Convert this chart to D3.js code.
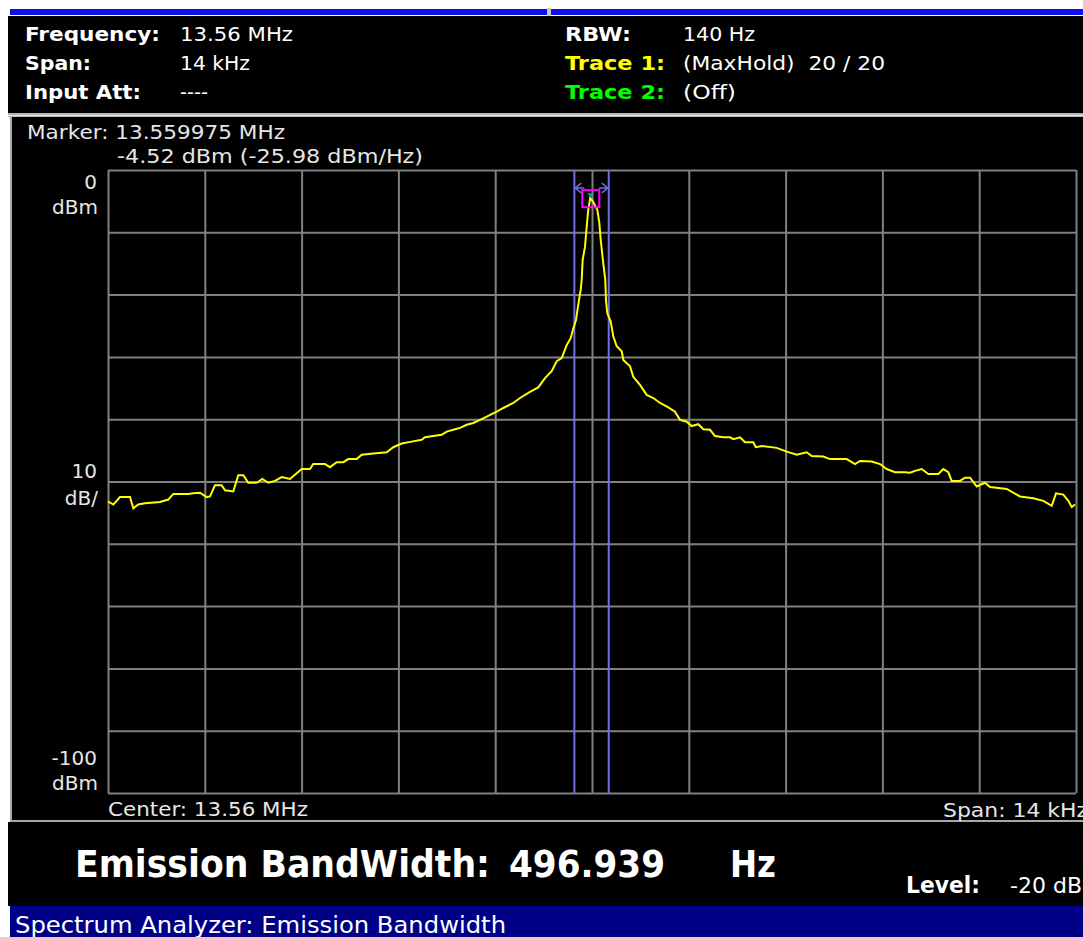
<!DOCTYPE html>
<html>
<head>
<meta charset="utf-8">
<script src="https://cdn.jsdelivr.net/npm/d3@7/dist/d3.min.js"></script>
<style>
  html, body { margin: 0; padding: 0; background: #ffffff; }
  svg { display: block; }
  text { white-space: pre; }
</style>
</head>
<body>
<svg id="chart" width="1083" height="937"></svg>
<script>
// ---------------- DATA ----------------
const centerFreqMHz = 13.56;
const spanHz = 14000;
const refLevel = 0;          // dBm (top)
const bottomLevel = -100;    // dBm (bottom)

// Trace 1 (MaxHold) : offset from centre frequency (Hz) and level (dBm)
const freqOffsetHz = [-7000,-6923,-6827,-6682,-6634,-6562,-6465,-6249,-6128,-6056,-5839,-5766,-5670,-5573,-5525,-5453,-5356,-5308,-5188,-5116,-5043,-4971,-4850,-4768,-4682,-4585,-4488,-4368,-4199,-4079,-4031,-3862,-3789,-3692,-3597,-3525,-3403,-3331,-3163,-2969,-2874,-2752,-2608,-2463,-2415,-2295,-2174,-2101,-2006,-1909,-1812,-1717,-1620,-1523,-1378,-1283,-1138,-1041,-897,-777,-680,-583,-511,-438,-366,-308,-270,-231,-213,-184,-163,-149,-135,-101,-77,-54,-25,5,40,77,106,126,163,192,202,221,270,308,357,430,453,550,597,694,791,887,984,1104,1200,1273,1370,1442,1537,1610,1707,1779,1899,1996,2044,2141,2213,2333,2368,2454,2671,2816,2961,3105,3178,3345,3442,3684,3804,3876,4045,4165,4262,4382,4527,4599,4672,4768,4864,5009,5081,5153,5202,5322,5395,5467,5564,5684,5756,5998,6190,6383,6527,6649,6711,6816,6889,6938,6986];
const levelDbm = [-53.2,-53.7,-52.5,-52.5,-54.3,-53.7,-53.5,-53.3,-52.9,-52.0,-52.0,-51.9,-51.8,-52.5,-52.4,-50.6,-50.6,-51.4,-51.6,-49.0,-49.0,-50.2,-50.2,-49.6,-50.2,-49.9,-49.3,-49.6,-48.0,-48.0,-47.2,-47.2,-47.7,-46.9,-46.9,-46.4,-46.4,-45.7,-45.5,-45.3,-44.5,-43.9,-43.6,-43.3,-42.9,-42.7,-42.5,-42.0,-41.7,-41.4,-40.9,-40.6,-40.1,-39.6,-38.8,-38.2,-37.4,-36.6,-35.6,-34.9,-33.4,-32.3,-30.7,-30.2,-28.1,-27.0,-25.4,-24.1,-22.7,-20.6,-19.2,-17.6,-14.4,-12.3,-9.1,-6.4,-4.5,-4.9,-5.6,-6.4,-8.5,-11.2,-15.0,-17.6,-20.9,-23.0,-24.3,-26.7,-28.3,-29.1,-30.5,-31.5,-33.2,-34.5,-36.1,-36.6,-37.4,-38.1,-38.8,-40.1,-40.4,-41.1,-40.8,-41.6,-41.7,-42.7,-42.9,-42.9,-43.2,-42.9,-43.7,-43.7,-44.5,-44.3,-44.6,-45.2,-45.7,-45.3,-45.9,-46.0,-46.4,-46.4,-47.2,-46.7,-46.8,-47.2,-48.0,-48.5,-48.5,-48.6,-48.3,-48.0,-48.8,-48.8,-48.0,-48.5,-49.9,-49.9,-49.4,-49.4,-50.8,-50.2,-50.9,-51.2,-52.4,-52.7,-53.1,-53.9,-51.9,-52.1,-53.1,-54.1,-53.7];

// grid ticks
const xGridTicks = [-7000,-5600,-4200,-2800,-1400,0,1400,2800,4200,5600,7000];
const yGridTicks = [0,-10,-20,-30,-40,-50,-60,-70,-80,-90,-100];

// y labels (value, line1, line2)
const yLabelValues = [0, -50, -100];
const yLabelLine1 = ["0", "10", "-100"];
const yLabelLine2 = ["dBm", "dB/", "dBm"];

// Marker / occupied bandwidth edges (Hz offset)
const markerFreqHz = -25;
const markerLevel = -4.52;
const obwEdgesHz = [-255, 242];

// header texts
const headerLeftLabels = ["Frequency:", "Span:", "Input Att:"];
const headerLeftValues = ["13.56 MHz", "14 kHz", "----"];
const headerRightLabels = ["RBW:", "Trace 1:", "Trace 2:"];
const headerRightValues = ["140 Hz", "(MaxHold)  20 / 20", "(Off)"];
const headerRightColors = ["#ffffff", "#ffff00", "#00ff00"];

// ---------------- DRAW ----------------
const svg = d3.select("#chart");
const FONT = "'DejaVu Sans', Verdana, sans-serif";

function txt(x, y, s, o = {}) {
  const t = svg.append("text")
    .attr("x", x).attr("y", y)
    .attr("font-family", o.family || FONT)
    .attr("font-size", o.size || 20)
    .attr("font-weight", o.weight || "normal")
    .attr("fill", o.fill || "#ffffff")
    .attr("text-anchor", o.anchor || "start")
    .text(s);
  if (o.len) t.attr("textLength", o.len).attr("lengthAdjust", "spacingAndGlyphs");
  return t;
}

// page background
svg.append("rect").attr("width", 1083).attr("height", 937).attr("fill", "#ffffff");

// top tabs (blue)
svg.append("rect").attr("x", 10).attr("y", 9).attr("width", 537).attr("height", 6).attr("fill", "#0c10f0");
svg.append("rect").attr("x", 551).attr("y", 9).attr("width", 532).attr("height", 6).attr("fill", "#0c10f0");
svg.append("rect").attr("x", 547).attr("y", 8).attr("width", 4).attr("height", 8).attr("fill", "#c8c8c8");

// header panel
svg.append("rect").attr("x", 8).attr("y", 16).attr("width", 1075).attr("height", 98).attr("fill", "#000000");
svg.append("rect").attr("x", 8).attr("y", 113).attr("width", 1075).attr("height", 4).attr("fill", "#b4b4b4");
svg.append("rect").attr("x", 8).attr("y", 115).attr("width", 1075).attr("height", 1).attr("fill", "#e8e8e8");

// plot panel
svg.append("rect").attr("x", 10).attr("y", 117).attr("width", 1073).attr("height", 704).attr("fill", "#000000");
svg.append("rect").attr("x", 10).attr("y", 117).attr("width", 2).attr("height", 705).attr("fill", "#a8a8a8");
svg.append("rect").attr("x", 10).attr("y", 820).attr("width", 1073).attr("height", 2).attr("fill", "#a8a8a8");

// bottom panel
svg.append("rect").attr("x", 8).attr("y", 822).attr("width", 1075).attr("height", 84).attr("fill", "#000000");
// status bar
svg.append("rect").attr("x", 10).attr("y", 906).attr("width", 1073).attr("height", 31).attr("fill", "#000086");

// header text
const hBase = [41, 70, 99];
const leftLens = [135, 66, 116];
const leftValLens = [113, 70, 28];
headerLeftLabels.forEach((s, i) => txt(25, hBase[i], s, { weight: "bold", len: leftLens[i] }));
headerLeftValues.forEach((s, i) => txt(180, hBase[i], s, { len: leftValLens[i] }));
const rightLens = [66, 100, 100];
const rightValLens = [72, 202, 53];
headerRightLabels.forEach((s, i) => txt(565, hBase[i], s, { weight: "bold", fill: headerRightColors[i], len: rightLens[i] }));
headerRightValues.forEach((s, i) => txt(683, hBase[i], s, { len: rightValLens[i] }));

// scales
const plot = { left: 108, right: 1076, top: 170, bottom: 793 };
const x = d3.scaleLinear().domain([-spanHz / 2, spanHz / 2]).range([plot.left, plot.right]);
const y = d3.scaleLinear().domain([bottomLevel, refLevel]).range([plot.bottom, plot.top]);

// grid via axes
const gx = svg.append("g").attr("transform", `translate(0,${plot.bottom})`)
  .call(d3.axisBottom(x).tickValues(xGridTicks).tickSize(-(plot.bottom - plot.top)).tickFormat(""));
const gy = svg.append("g").attr("transform", `translate(${plot.left},0)`)
  .call(d3.axisLeft(y).tickValues(yGridTicks).tickSize(-(plot.right - plot.left)).tickFormat(""));
[gx, gy].forEach(g => {
  g.select(".domain").remove();
  g.selectAll(".tick line").attr("stroke", "#808080").attr("stroke-width", 2);
});

// marker text
const plotTextFill = "#e6e6e6";
txt(27, 138.5, "Marker: 13.559975 MHz", { fill: plotTextFill, len: 258 });
txt(117, 163, "-4.52 dBm (-25.98 dBm/Hz)", { fill: plotTextFill, len: 306 });

// y labels
const off1 = [19, -4, -28];
const off2 = [44, 23, -3];
yLabelValues.forEach((v, i) => {
  txt(97, y(v) + off1[i], yLabelLine1[i], { fill: plotTextFill, anchor: "end" });
  txt(98, y(v) + off2[i], yLabelLine2[i], { fill: plotTextFill, anchor: "end" });
});

// bottom axis labels
txt(108, 816, "Center: " + centerFreqMHz + " MHz", { fill: plotTextFill, len: 200 });
txt(943, 817, "Span: " + (spanHz / 1000) + " kHz", { fill: plotTextFill, len: 145 });

// occupied bandwidth lines
const obwColor = "#7070e6";
obwEdgesHz.forEach(f => {
  svg.append("line").attr("x1", x(f)).attr("x2", x(f)).attr("y1", plot.top).attr("y2", plot.bottom)
    .attr("stroke", obwColor).attr("stroke-width", 2);
});
// arrows pointing outward
const ax0 = x(obwEdgesHz[0]) + 1, ax1 = x(obwEdgesHz[1]) - 1, ay = 188;
svg.append("path").attr("d", `M${ax0 + 6},${ay - 5} L${ax0},${ay} L${ax0 + 6},${ay + 5} M${ax0},${ay} L${ax0 + 9},${ay}`)
  .attr("stroke", obwColor).attr("stroke-width", 1.6).attr("fill", "none");
svg.append("path").attr("d", `M${ax1 - 6},${ay - 5} L${ax1},${ay} L${ax1 - 6},${ay + 5} M${ax1},${ay} L${ax1 - 9},${ay}`)
  .attr("stroke", obwColor).attr("stroke-width", 1.6).attr("fill", "none");

// trace
const traceData = freqOffsetHz.map((f, i) => [f, levelDbm[i]]);
svg.append("path").datum(traceData)
  .attr("d", d3.line().x(d => x(d[0])).y(d => y(d[1])))
  .attr("fill", "none").attr("stroke", "#ffff00").attr("stroke-width", 2).attr("stroke-linejoin", "miter");

// marker box
const mx = x(markerFreqHz), my = y(markerLevel);
svg.append("rect").attr("x", mx - 8).attr("y", my - 8).attr("width", 17).attr("height", 17)
  .attr("fill", "none").attr("stroke", "#ff00ff").attr("stroke-width", 2);
svg.append("path").attr("d", `M${mx - 3},${my - 5} L${mx + 4},${my - 5} L${mx + 0.5},${my - 1} Z`).attr("fill", "#00a8a8");

// bottom result
txt(75, 877, "Emission BandWidth:", { size: 37, weight: "bold", len: 415 });
txt(509, 877, "496.939", { size: 37, weight: "bold", len: 156 });
txt(730, 877, "Hz", { size: 37, weight: "bold", len: 46 });
txt(906, 893, "Level:", { size: 23, weight: "bold", len: 74 });
txt(1010, 893, "-20 dB", { size: 22, len: 72 });

// status bar text
txt(15, 933, "Spectrum Analyzer: Emission Bandwidth", { size: 23, len: 491 });
</script>
</body>
</html>
